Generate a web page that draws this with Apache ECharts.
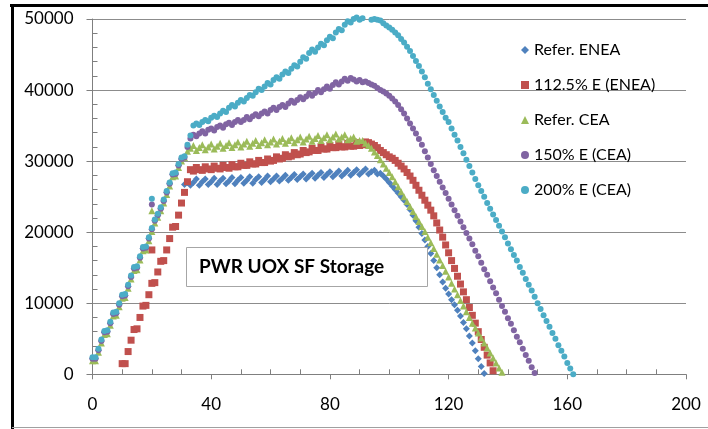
<!DOCTYPE html>
<html><head><meta charset="utf-8">
<script src="https://cdn.jsdelivr.net/npm/echarts@6/dist/echarts.min.js"></script>
<style>html,body{margin:0;padding:0;background:#fff}#c{width:708px;height:429px}</style>
</head><body><div id="c"></div>
<script>
// ---- data ----
const seriesNames = ['Refer. ENEA', '112.5% E (ENEA)', 'Refer. CEA', '150% E (CEA)', '200% E (CEA)'];
const xTicks = [0, 40, 80, 120, 160, 200];
const yTicks = [0, 10000, 20000, 30000, 40000, 50000];
const chartNote = 'PWR UOX SF Storage';

// Refer. ENEA, x from 0
const enea0 = 0;
const eneaY = [2200,2200,3400,4700,5900,6000,7200,8500,8600,9800,11000,11100,12400,13700,14900,15000,16400,17700,17800,19100,
  20400,21600,22400,23300,24400,25600,26800,28100,28200,29400,30300,26700,27000,
  26600,27000,27500,26600,27100,27500,26700,27100,27600,26700,27200,27600,26800,27200,27700,26800,27300,27700,
  26900,27300,27800,26900,27400,27800,27000,27400,27900,27100,27500,27900,27200,27600,28000,27300,27700,28100,
  27400,27800,28200,27500,27900,28300,27600,28000,28400,27700,28100,28500,27800,28200,28600,27900,28300,28700,
  28000,28400,28800,28100,28500,28900,
  28200,28500,28700,28200,28300,27900,27500,27000,26500,26000,25500,25000,24500,23900,23200,22400,21600,20700,
  19800,18900,18000,17000,16000,15000,14000,13000,12100,11300,10500,9800,9000,8200,7300,6400,5400,4400,3300,2200,1100,100];

// 112.5% E (ENEA), x from 10
const e112x0 = 10;
const e112Y = [1500,1500,3200,4800,6300,6400,8000,9600,9700,11200,12800,12900,14400,15900,16000,17500,19100,20700,20800,22400,
  24100,25600,27100,28800,
  28600,29100,28800,28700,29200,28900,28800,29300,29000,28900,29400,29100,29000,29500,29200,29200,29700,29400,
  29400,29900,29600,29600,30100,29800,29800,30300,30000,30100,30600,30300,30400,30900,30600,30700,31200,30900,
  31000,31500,31200,31300,31800,31500,31500,32000,31700,31700,32200,31900,31900,32400,32000,32000,32500,32100,
  32100,32600,32200,32300,32700,
  32600,32400,32200,31900,31500,31200,30900,30600,30400,30100,29700,29300,28900,28400,27900,27300,26600,25900,
  25200,24500,23800,23100,22300,21300,20300,19300,18200,17100,16000,14900,13800,12700,11600,10500,9400,8300,
  7200,6000,4900,3800,2700,1600,500];
const e112Extra = [[20, 17500]];

// Refer. CEA, x from 0
const cea0 = 0;
const ceaY = [1900,1900,3100,4400,5600,5700,6900,8200,8300,9500,10700,10800,12100,13400,14600,14700,16100,17400,17500,18800,
  20100,21300,22100,23000,24100,25300,26500,27800,27900,29100,30000,30500,
  31400,31800,32200,31500,31900,32300,31600,32000,32400,31700,32100,32500,31800,32200,32600,31900,32300,32700,
  32000,32400,32800,32100,32500,32900,32200,32600,33000,32300,32700,33100,32400,32800,33200,32500,32900,33300,
  32600,33000,33400,32700,33100,33500,32800,33200,33600,32900,33300,33700,33000,33400,33800,33100,33400,33700,
  33000,33200,33400,32800,32900,32900,32500,32200,
  31800,31300,30800,30200,29600,29000,28400,27800,27100,26400,25700,25000,24300,23600,22900,22200,21500,20800,
  20100,19300,18500,17700,16900,16100,15300,14500,13700,12800,12000,11200,10400,9600,8800,8000,7200,6500,
  5800,5100,4400,3700,3000,2300,1600,900,300];
const ceaExtra = [[20, 23000]];

// 150% E (CEA), x from 0
const c150x0 = 0;
const c150Y = [2200,2200,3400,4700,5900,6000,7200,8500,8600,9800,11000,11100,12400,13700,14900,15000,16400,17700,17800,19100,
  20400,21600,22400,23300,24400,25600,26800,28100,28200,29400,30300,30500,32000,
  33200,33700,33500,33900,34200,33900,34400,34600,34300,34800,35000,34700,35200,35400,35100,35500,35800,35500,
  35800,36200,35900,36300,36600,36300,36700,37000,36700,37200,37500,37200,37600,37900,37600,38100,38500,38200,
  38600,39000,38700,39100,39500,39200,39600,40000,39700,40100,40500,40200,40700,41100,40800,41200,41600,41300,
  41700,41500,41200,41400,41100,41200,41000,40800,40600,40300,40000,39800,39500,39200,38800,38400,37900,37300,
  36700,36000,35300,34600,33900,33100,32300,31400,30500,29600,28700,27900,27100,26300,25500,24700,23900,23100,
  22300,21500,20700,19900,19100,18300,17400,16600,15700,14800,14000,13100,12200,11400,10500,9600,8800,7900,
  7100,6200,5300,4500,3600,2700,1900,1000,200];
const c150Extra = [[20, 23900]];

// 200% E (CEA), x from 0 (null = no point)
const c200x0 = 0;
const c200Y = [2400,2400,3600,4900,6100,6200,7400,8700,8800,10000,11200,11300,12600,13900,15100,15200,16600,17900,18000,19300,
  20600,21800,22600,23500,24600,25800,27000,28300,28400,29600,30500,30700,32300,33600,
  35000,35300,35100,35500,35800,35600,36100,36400,36200,36700,37100,36900,37500,37900,37700,38200,38600,38400,
  38900,39300,39200,39700,40200,40000,40500,41000,40800,41400,41800,41600,42200,42600,42400,43000,43500,43300,
  44000,44600,44400,45200,45700,45400,46000,46500,46300,47000,47500,47300,48100,48600,48400,49200,49700,49500,
  50000,50200,49900,50100,null,null,49900,50000,49900,49800,49400,49100,48800,48500,48100,47700,47200,46700,
  46100,45500,44800,44100,43400,42600,41800,40900,40100,39300,38500,37700,36900,36100,35500,34600,33700,32900,
  32000,31100,30200,29300,28400,27500,26600,25800,25000,24100,23300,22500,21700,20900,20100,19300,18400,17600,
  16800,16000,15100,14300,13400,12600,11800,10900,10000,9200,8300,7500,6700,5800,5000,4100,3300,2500,1600,800,0];
const c200Extra = [[20, 24700]];

// ---- build ----
function pts(x0, ys, extra) {
  const d = [];
  ys.forEach((y, i) => { if (y !== null) d.push([x0 + i, y]); });
  return d.concat(extra || []);
}
const colors = ['#4F81BD', '#C0504D', '#9BBB59', '#8064A2', '#4BACC6'];
const symbols = ['diamond', 'rect', 'triangle', 'circle', 'circle'];
const sizes = [7, 7, 7, 6, 6];
const datasets = [pts(enea0, eneaY), pts(e112x0, e112Y, e112Extra), pts(cea0, ceaY, ceaExtra),
  pts(c150x0, c150Y, c150Extra), pts(c200x0, c200Y, c200Extra)];

const FONT = 'Lato';
const axisGray = '#7f7f7f';
const clear = 'rgba(0,0,0,0)';
const xMin = xTicks[0], xMax = xTicks[xTicks.length - 1], xInt = xTicks[1] - xTicks[0];
const yMin = yTicks[0], yMax = yTicks[yTicks.length - 1], yInt = yTicks[1] - yTicks[0];
const chart = echarts.init(document.getElementById('c'), null, {renderer: 'canvas'});
const mainSeries = seriesNames.map((n, i) => ({
  name: n, type: 'scatter', xAxisIndex: 0, yAxisIndex: 0,
  symbol: symbols[i], symbolSize: sizes[i], clip: false,
  itemStyle: {color: colors[i], opacity: 1},
  data: datasets[i]
}));
// helper series that only keeps the inner minor-tick axes alive (draws nothing)
mainSeries.push({name: '_ticks', type: 'scatter', xAxisIndex: 1, yAxisIndex: 1, symbolSize: 0, silent: true,
  data: [[xMin, yMin], [xMax, yMax]], itemStyle: {opacity: 0}});

chart.setOption({
  animation: false,
  backgroundColor: '#fff',
  grid: {left: 92.5, right: 22, top: 19, bottom: 54.7, containLabel: false},
  xAxis: [{
    type: 'value', position: 'bottom', min: xMin, max: xMax, interval: xInt,
    axisLine: {lineStyle: {color: axisGray, width: 1}},
    axisTick: {show: true, length: 5, lineStyle: {color: axisGray}},
    axisLabel: {color: '#000', fontSize: 17, fontFamily: FONT, margin: 22},
    splitLine: {show: false}
  }, {
    type: 'value', position: 'bottom', min: xMin, max: xMax, interval: xInt,
    axisLine: {show: false}, axisLabel: {show: false}, splitLine: {show: false},
    axisTick: {show: true, inside: true, length: 5, lineStyle: {color: clear}},
    minorTick: {show: true, splitNumber: 4, length: 5, lineStyle: {color: axisGray, width: 1}}
  }],
  yAxis: [{
    type: 'value', position: 'left', min: yMin, max: yMax, interval: yInt,
    axisLine: {show: true, lineStyle: {color: axisGray, width: 1}},
    axisTick: {show: true, length: 6, lineStyle: {color: axisGray}},
    axisLabel: {color: '#000', fontSize: 17, fontFamily: FONT, margin: 19, formatter: v => String(v)},
    splitLine: {show: true, lineStyle: {color: '#8c8c8c', width: 1}}
  }, {
    type: 'value', position: 'left', min: yMin, max: yMax, interval: yInt,
    axisLine: {show: false}, axisLabel: {show: false}, splitLine: {show: false},
    axisTick: {show: true, inside: true, length: 5, lineStyle: {color: clear}},
    minorTick: {show: true, splitNumber: 5, length: 5, lineStyle: {color: axisGray, width: 1}}
  }],
  legend: {
    orient: 'vertical', left: 516, top: 37, itemGap: 19, itemWidth: 8, itemHeight: 8,
    textStyle: {color: '#000', fontSize: 16, fontFamily: FONT, lineHeight: 16},
    data: seriesNames.map((n, i) => ({name: n, icon: symbols[i]}))
  },
  series: mainSeries,
  graphic: [
    {type: 'rect', shape: {x: 186.5, y: 247.5, width: 241, height: 39}, style: {fill: '#fff', stroke: '#a6a6a6', lineWidth: 1}, z: 100},
    {type: 'text', x: 199, y: 267, style: {text: chartNote, font: 'bold 19px Lato', fill: '#000', verticalAlign: 'middle'}, z: 101},
    {type: 'line', shape: {x1: 10, y1: 5.5, x2: 708, y2: 5.5}, style: {stroke: '#000', lineWidth: 3}, z: 100},
    {type: 'line', shape: {x1: 12.5, y1: 4, x2: 12.5, y2: 429}, style: {stroke: '#000', lineWidth: 3}, z: 100},
    {type: 'line', shape: {x1: 12, y1: 427.5, x2: 708, y2: 427.5}, style: {stroke: '#a0a0a0', lineWidth: 1}, z: 100}
  ]
});
</script>
</body></html>
